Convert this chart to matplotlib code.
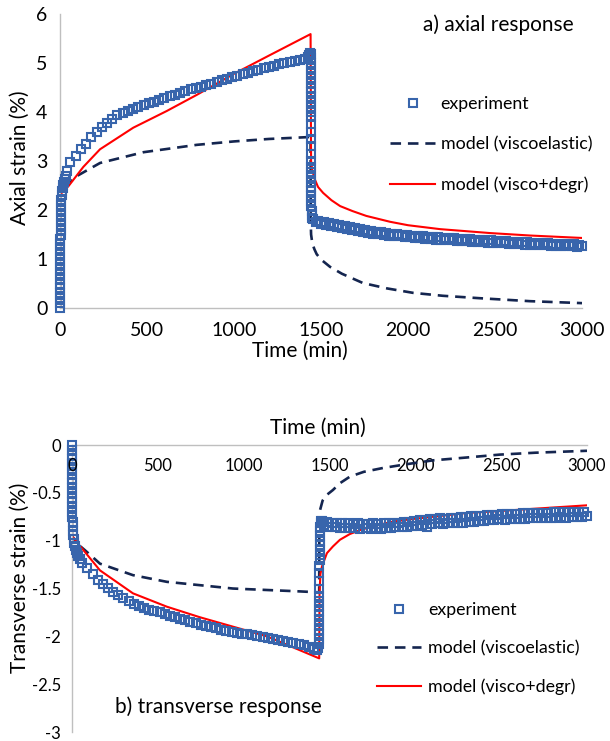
import matplotlib
matplotlib.use('Agg')
import matplotlib.pyplot as plt

plt.rcParams['font.family'] = ['Lato', 'DejaVu Sans']
plt.rcParams['axes.unicode_minus'] = False

# ---------------- a) axial response ----------------
# experiment: loading at t=0, creep, unloading at ~1440 min, recovery
ax_load_t = [0, 0, 0, 0, 0, 0, 0, 0, 1, 1, 1, 1, 2, 2, 2, 3, 3, 4, 4, 5, 6, 7, 8, 10, 12, 15, 18, 22, 27, 33, 40]
ax_load_s = [0.0, 0.1, 0.2, 0.3, 0.4, 0.5, 0.6, 0.7, 0.8, 0.9, 1.0, 1.1, 1.2, 1.3, 1.4, 1.5, 1.6, 1.7, 1.8, 1.9,
             2.0, 2.1, 2.2, 2.3, 2.38, 2.45, 2.52, 2.58, 2.64, 2.7, 2.8]
ax_creep_t = list(range(60, 1411, 30))
ax_creep_s = [2.97, 3.11, 3.24, 3.35, 3.48, 3.60, 3.69, 3.78, 3.86, 3.93, 3.99, 4.03, 4.07, 4.11, 4.14, 4.18,
              4.21, 4.25, 4.28, 4.32, 4.35, 4.39, 4.42, 4.46, 4.49, 4.52, 4.55, 4.58, 4.62, 4.65, 4.68, 4.71,
              4.74, 4.77, 4.80, 4.83, 4.86, 4.89, 4.91, 4.94, 4.97, 4.99, 5.02, 5.04, 5.06, 5.08]
ax_unl_t = [1425, 1432, 1438, 1440] + [1440] * 13 + [1441] * 6 + \
           [1442, 1442, 1442, 1443, 1443, 1443, 1444, 1444, 1445, 1446, 1448, 1450]
ax_unl_s = [5.12, 5.16, 5.2, 5.18, 5.1, 5.0, 4.9, 4.8, 4.7, 4.6, 4.5, 4.4, 4.3, 4.2, 4.1, 4.0, 3.9,
            3.75, 3.6, 3.45, 3.3, 3.15, 3.0,
            2.88, 2.78, 2.68, 2.58, 2.48, 2.38, 2.28, 2.18, 2.08, 1.98, 1.9, 1.84]
ax_rec_t = list(range(1455, 3001, 15))
ax_rec_s = [1.82, 1.75, 1.78, 1.72, 1.75, 1.69, 1.73, 1.67, 1.71, 1.65, 1.69, 1.63, 1.67, 1.62, 1.66, 1.60,
            1.64, 1.58, 1.62, 1.56, 1.60, 1.54, 1.58, 1.52, 1.56, 1.51, 1.55, 1.50, 1.54, 1.48, 1.52, 1.47,
            1.51, 1.46, 1.50, 1.45, 1.49, 1.44, 1.48, 1.43, 1.47, 1.42, 1.46, 1.41, 1.45, 1.40, 1.44, 1.39,
            1.44, 1.39, 1.43, 1.38, 1.42, 1.38, 1.42, 1.37, 1.41, 1.36, 1.41, 1.36, 1.40, 1.35, 1.39, 1.35,
            1.39, 1.34, 1.38, 1.33, 1.38, 1.33, 1.37, 1.32, 1.36, 1.32, 1.36, 1.31, 1.35, 1.30, 1.35, 1.30,
            1.34, 1.29, 1.34, 1.29, 1.33, 1.29, 1.33, 1.28, 1.32, 1.28, 1.32, 1.27, 1.31, 1.27, 1.31, 1.26,
            1.31, 1.26, 1.30, 1.26, 1.30, 1.25, 1.29, 1.26]

# models
ax_ve_t = [0, 0, 20, 57, 100, 230, 480, 786, 1000, 1200, 1440, 1441, 1443, 1450, 1462, 1475, 1500, 1552,
           1620, 1741, 1880, 2029, 2200, 2414, 2700, 3000]
ax_ve_s = [0, 2.3, 2.42, 2.57, 2.7, 2.96, 3.18, 3.33, 3.4, 3.45, 3.49, 1.75, 1.5, 1.32, 1.2, 1.1, 0.99, 0.84,
           0.7, 0.51, 0.4, 0.31, 0.25, 0.2, 0.14, 0.1]
ax_vd_t = [0, 0, 20, 47, 134, 230, 421, 613, 786, 1000, 1200, 1440, 1443, 1450, 1465, 1483, 1512, 1560,
           1610, 1680, 1760, 1897, 2000, 2184, 2471, 2700, 3000]
ax_vd_s = [0, 2.3, 2.4, 2.48, 2.88, 3.24, 3.68, 4.02, 4.35, 4.78, 5.15, 5.59, 3.0, 2.8, 2.62, 2.47, 2.35, 2.2,
           2.08, 1.98, 1.88, 1.76, 1.69, 1.61, 1.53, 1.48, 1.43]

# ---------------- b) transverse response ----------------
tr_load_t = [0, 0, 0, 0, 0, 0, 0, 0, 0, 0, 1, 1, 1, 2, 2, 3, 4, 5, 6, 8, 10, 13, 17, 22, 28, 35, 45]
tr_load_s = [0, -0.05, -0.1, -0.15, -0.2, -0.25, -0.3, -0.35, -0.4, -0.45, -0.5, -0.55, -0.6, -0.65, -0.7,
             -0.75, -0.8, -0.85, -0.9, -0.94, -0.98, -1.02, -1.06, -1.1, -1.13, -1.16, -1.19]
tr_creep_t = list(range(60, 1411, 30))
tr_creep_s = [-1.23, -1.29, -1.35, -1.41, -1.45, -1.49, -1.54, -1.57, -1.60, -1.63, -1.66, -1.68, -1.70,
              -1.72, -1.74, -1.75, -1.77, -1.79, -1.80, -1.82, -1.83, -1.85, -1.86, -1.88, -1.89, -1.90,
              -1.91, -1.93, -1.94, -1.95, -1.96, -1.97, -1.98, -1.99, -2.00, -2.01, -2.02, -2.03, -2.04,
              -2.05, -2.06, -2.07, -2.08, -2.09, -2.11, -2.13]
tr_unl_t = [1425, 1432] + [1440] * 11 + [1441] * 4 + [1442] * 5 + [1443, 1444, 1446, 1448, 1452]
tr_unl_s = [-2.14, -2.12, -2.08, -2.03, -1.98, -1.93, -1.88, -1.83, -1.78, -1.73, -1.68, -1.63, -1.58,
            -1.5, -1.42, -1.34, -1.26, -1.2, -1.15, -1.1, -1.05, -1.0, -0.95, -0.9, -0.86, -0.82, -0.79]
tr_rec_t = list(range(1455, 3001, 15))
tr_rec_s = [-0.79, -0.84, -0.80, -0.86, -0.81, -0.86, -0.81, -0.87, -0.82, -0.87, -0.82, -0.87, -0.83,
            -0.87, -0.82, -0.88, -0.83, -0.87, -0.83, -0.88, -0.82, -0.87, -0.83, -0.88, -0.82, -0.87,
            -0.81, -0.87, -0.82, -0.86, -0.81, -0.86, -0.80, -0.86, -0.80, -0.85, -0.79, -0.85, -0.78,
            -0.84, -0.78, -0.86, -0.77, -0.83, -0.77, -0.82, -0.76, -0.83, -0.77, -0.81, -0.76, -0.82,
            -0.76, -0.81, -0.75, -0.81, -0.75, -0.80, -0.74, -0.80, -0.74, -0.79, -0.74, -0.79, -0.73,
            -0.78, -0.73, -0.78, -0.73, -0.77, -0.72, -0.78, -0.72, -0.77, -0.72, -0.77, -0.72, -0.77,
            -0.71, -0.77, -0.71, -0.76, -0.71, -0.76, -0.71, -0.76, -0.71, -0.76, -0.71, -0.76, -0.70,
            -0.76, -0.70, -0.75, -0.70, -0.76, -0.70, -0.75, -0.70, -0.75, -0.70, -0.75, -0.70, -0.74]

tr_ve_t = [0, 0, 30, 76, 163, 355, 553, 938, 1328, 1440, 1441, 1445, 1460, 1485, 1520, 1560, 1619, 1700,
           1811, 1950, 2103, 2300, 2492, 2700, 3000]
tr_ve_s = [0, -0.95, -1.03, -1.1, -1.24, -1.36, -1.43, -1.5, -1.53, -1.54, -0.8, -0.68, -0.58, -0.52,
           -0.47, -0.40, -0.33, -0.28, -0.24, -0.2, -0.16, -0.13, -0.1, -0.08, -0.06]
tr_vd_t = [0, 0, 30, 58, 163, 355, 553, 745, 1136, 1440, 1442, 1447, 1456, 1485, 1520, 1561, 1619, 1677,
           1750, 1870, 2000, 2103, 2300, 2492, 2700, 3000]
tr_vd_s = [0, -0.95, -1.02, -1.08, -1.31, -1.55, -1.69, -1.8, -2.0, -2.23, -1.55, -1.35, -1.27, -1.13,
           -1.06, -0.99, -0.93, -0.89, -0.85, -0.80, -0.77, -0.75, -0.71, -0.69, -0.665, -0.63]

time_ticks = [0, 500, 1000, 1500, 2000, 2500, 3000]

blue = '#3865AC'
navy = '#14254F'
red = '#FF0000'
gray = '#BFBFBF'
labels = ['experiment', 'model (viscoelastic)', 'model (visco+degr)']

fig = plt.figure(figsize=(6.10, 7.41), dpi=100)


def draw(ax, t_exp, s_exp, t_ve, s_ve, t_vd, s_vd):
    ax.plot(t_exp, s_exp, ls='none', marker='s', ms=5.6, mew=1.5, mfc='none', mec=blue,
            clip_on=False, zorder=3, label=labels[0])
    ax.plot(t_ve, s_ve, color=navy, lw=1.9, ls=(0, (4, 2.6)), zorder=2, label=labels[1])
    ax.plot(t_vd, s_vd, color=red, lw=1.5, zorder=2, label=labels[2])
    ax.set_xlim(0, 3000)
    ax.tick_params(length=0)
    for sp in ax.spines.values():
        sp.set_color(gray)
        sp.set_linewidth(1.0)


# top panel
ax1 = fig.add_axes([0.0984, 0.5843, 0.8557, 0.3968])
draw(ax1, ax_load_t + ax_creep_t + ax_unl_t + ax_rec_t, ax_load_s + ax_creep_s + ax_unl_s + ax_rec_s,
     ax_ve_t, ax_ve_s, ax_vd_t, ax_vd_s)
ax1.set_ylim(0, 6)
ax1.spines['top'].set_visible(False)
ax1.spines['right'].set_visible(False)
ax1.set_xticks(time_ticks)
ax1.set_yticks([0, 1, 2, 3, 4, 5, 6])
ax1.tick_params(axis='x', labelsize=14, pad=10)
ax1.tick_params(axis='y', labelsize=14, pad=9)
ax1.set_xlabel('Time (min)', fontsize=15)
ax1.xaxis.set_label_coords(0.46, -0.11)
ax1.set_ylabel('Axial strain (%)', fontsize=15)
ax1.yaxis.set_label_coords(-0.057, 0.51)
ax1.legend(loc='upper left', bbox_to_anchor=(390 / 610, 1 - 96 / 741), bbox_transform=fig.transFigure,
           frameon=False, fontsize=12.8, handlelength=2.55, handletextpad=0.3, labelspacing=1.36,
           borderpad=0, borderaxespad=0)
fig.text(423 / 610, 1 - 25 / 741, 'a) axial response', fontsize=15, ha='left', va='center')

# bottom panel
ax2 = fig.add_axes([0.118, 0.0121, 0.8443, 0.3873])
draw(ax2, tr_load_t + tr_creep_t + tr_unl_t + tr_rec_t, tr_load_s + tr_creep_s + tr_unl_s + tr_rec_s,
     tr_ve_t, tr_ve_s, tr_vd_t, tr_vd_s)
ax2.set_ylim(-3, 0)
ax2.spines['bottom'].set_visible(False)
ax2.spines['right'].set_visible(False)
ax2.set_xticks(time_ticks)
ax2.set_xticklabels([''] + [str(v) for v in time_ticks[1:]])
ax2.set_yticks([-3, -2.5, -2, -1.5, -1, -0.5, 0])
ax2.set_yticklabels(['-3', '-2.5', '-2', '-1.5', '-1', '-0.5', '0'])
ax2.tick_params(axis='x', labelsize=12, top=True, labeltop=True, bottom=False, labelbottom=False, pad=-21)
ax2.tick_params(axis='y', labelsize=12, pad=8)
# the "0" tick label sits on top of the data band in the original
ax2.annotate(str(time_ticks[0]), (time_ticks[0], 0), xytext=(0, -21), textcoords='offset points',
             ha='center', va='bottom', fontsize=12, zorder=5)
ax2.xaxis.set_label_position('top')
ax2.set_xlabel('Time (min)', fontsize=15)
ax2.xaxis.set_label_coords(0.478, 1.04)
ax2.set_ylabel('Transverse strain (%)', fontsize=15)
ax2.yaxis.set_label_coords(-0.082, 0.537)
ax2.legend(loc='upper left', bbox_to_anchor=(377 / 610, 1 - 602 / 741), bbox_transform=fig.transFigure,
           frameon=False, fontsize=12.8, handlelength=2.45, handletextpad=0.42, labelspacing=1.24,
           borderpad=0, borderaxespad=0)
fig.text(115 / 610, 1 - 707 / 741, 'b) transverse response', fontsize=15, ha='left', va='center')

fig.savefig('out.png', dpi=100)
